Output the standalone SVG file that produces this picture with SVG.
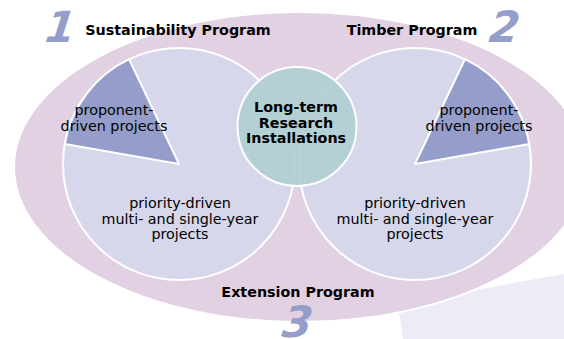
<svg xmlns="http://www.w3.org/2000/svg" width="564" height="339" viewBox="0 0 564 339">
<style>
.lbl{font-family:"DejaVu Sans","Verdana",sans-serif;font-size:14.3px;fill:#000;text-anchor:middle}
.b{font-weight:bold}
.num{font-family:"DejaVu Sans","Verdana",sans-serif;font-weight:bold;font-style:italic;font-size:43px;fill:#959eca}
.circ{fill:#d6d7eb;stroke:#fff;stroke-width:2}
.wedge{fill:#959eca;stroke:#fff;stroke-width:2;stroke-linejoin:round}
</style>
<rect width="564" height="339" fill="#fff"/>
<g id="backdrop">
<polygon points="398,304 564,274 564,339 403,339" fill="#ececf6"/>
</g>
<g id="extension-program">
<ellipse cx="300" cy="167" rx="286" ry="155" fill="#e2d1e3" stroke="#fff" stroke-width="2"/>
<text class="lbl b" x="298" y="297">Extension Program</text>
<text class="num" transform="translate(281,337) skewX(-7)" x="0" y="0">3</text>
</g>
<g id="sustainability-program">
<circle class="circ" cx="179" cy="164" r="116"/>
<path class="wedge" d="M179,164 L129.1,59.2 A116,116 0 0,0 64.7,144 Z"/>
<text class="lbl b" x="178" y="35">Sustainability Program</text>
<text class="num" transform="translate(44,42) skewX(-7)" x="0" y="0">1</text>
<text class="lbl" x="114" y="115">proponent-</text>
<text class="lbl" x="114" y="131">driven projects</text>
<text class="lbl" x="180" y="208">priority-driven</text>
<text class="lbl" x="180" y="223.5">multi- and single-year</text>
<text class="lbl" x="180" y="238.5">projects</text>
</g>
<g id="timber-program">
<circle class="circ" cx="415" cy="164" r="116"/>
<path class="wedge" d="M415,164 L464.9,59.2 A116,116 0 0,1 529.3,144 Z"/>
<text class="lbl b" x="412" y="35">Timber Program</text>
<text class="num" transform="translate(488,42) skewX(-7)" x="0" y="0">2</text>
<text class="lbl" x="479" y="115">proponent-</text>
<text class="lbl" x="479" y="131">driven projects</text>
<text class="lbl" x="415" y="208">priority-driven</text>
<text class="lbl" x="415" y="223.5">multi- and single-year</text>
<text class="lbl" x="415" y="238.5">projects</text>
</g>
<g id="long-term-research">
<circle cx="297" cy="126.5" r="59.5" fill="#b0cfd3" fill-opacity="0.92" stroke="#fff" stroke-width="2"/>
<text class="lbl b" x="296" y="112">Long-term</text>
<text class="lbl b" x="296" y="127.5">Research</text>
<text class="lbl b" x="296" y="142.5">Installations</text>
</g>
</svg>
